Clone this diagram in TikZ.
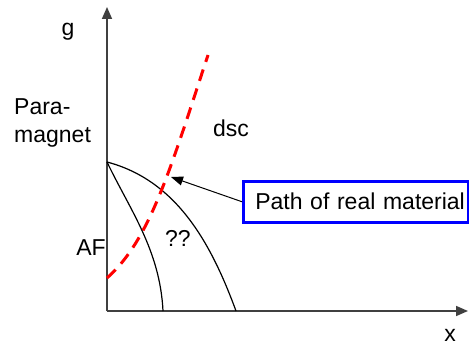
\documentclass[tikz,border=0pt]{standalone}
\usepackage{fontspec}
\setmainfont{Liberation Sans}
\usetikzlibrary{arrows.meta}
\begin{document}
\begin{tikzpicture}[x=1pt,y=-1pt,
  axis/.style={draw=black!75,line width=1.6pt,-{Triangle[length=12pt,width=10pt]}},
  phase/.style={draw=black,line width=1.2pt},
  redpath/.style={draw=red,line width=3pt,dash pattern=on 12pt off 8pt},
  lbl/.style={font=\fontsize{23}{28}\selectfont,inner sep=0pt},
  callout/.style={draw=blue,line width=2.5pt,font=\fontsize{23}{28}\selectfont,inner sep=0pt,minimum height=41pt,text width=225pt,align=left}]
\useasboundingbox (0,0) rectangle (469,345);
\coordinate (O) at (107,311);
\coordinate (ytop) at (107,7);
\coordinate (xend) at (468,311);
\draw[axis] (O) -- (ytop);
\draw[axis] (O) -- (xend);
\coordinate (P) at (107,162);
\draw[phase] (P) .. controls (175,180) and (210,240) .. (236,311);
\draw[phase] (P) .. controls (130,210) and (160,250) .. (163,311);
\draw[redpath] (107,278) .. controls (150,240) and (170,170) .. (208,55);
\node[callout,anchor=north west] (box) at (242,180) {\hspace*{12pt}Path of real material};
\coordinate (tip) at (171,177);
\draw[line width=1pt,-{Triangle[length=12pt,width=9pt]}] (box.west) -- (tip);
\node[lbl] (g) at (68,32) {g};
\node[lbl,anchor=west,align=left] (pm) at (14,123) {Para-\\magnet};
\node[lbl] (dsc) at (231,128) {dsc};
\node[lbl] (af) at (91,248) {AF};
\node[lbl] (qq) at (178,238) {??};
\node[lbl] (xl) at (450,335) {x};
\end{tikzpicture}
\end{document}
